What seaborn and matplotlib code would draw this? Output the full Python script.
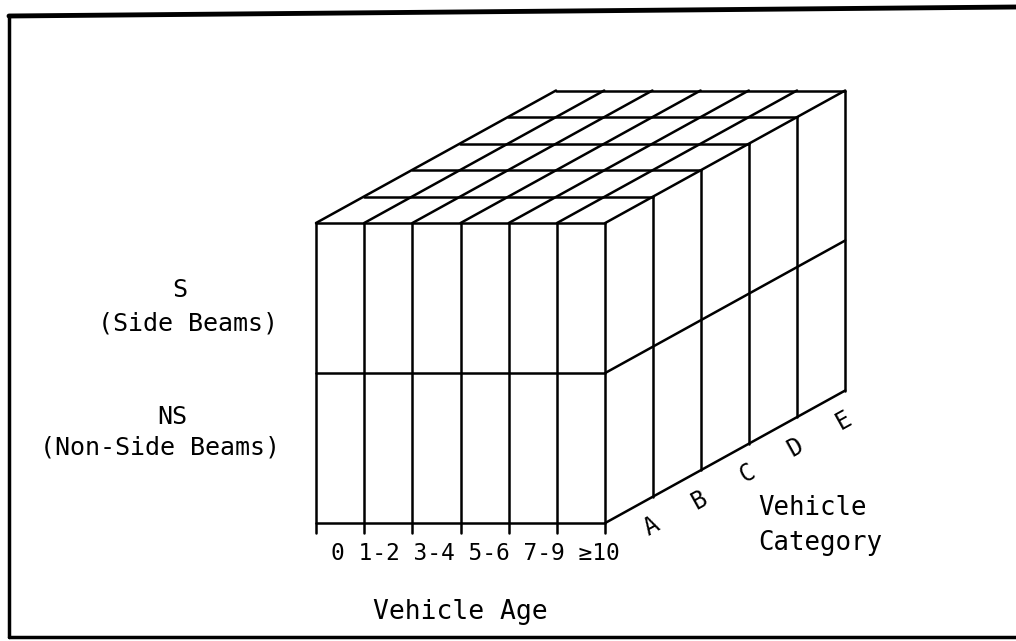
import numpy as np
import pandas as pd
import seaborn as sns
import matplotlib.pyplot as plt

# the three classification dimensions of the cube
age_groups = ["0", "1-2", "3-4", "5-6", "7-9", "≥10"]
vehicle_categories = ["A", "B", "C", "D", "E"]
beam_codes = ["NS", "S"]                       # bottom row first
beam_names = ["(Non-Side Beams)", "(Side Beams)"]

n_age, n_cat, n_beam = len(age_groups), len(vehicle_categories), len(beam_codes)

# oblique projection of the cube (pixel units, y pointing down)
X0, Y0 = 316, 523          # front bottom-left corner
CW, RH = 48.2, 150         # column width, row height on the front face
DX, DY = 48, -26.5         # shift per category slice (depth)
TICK = 10


def proj(i, j, k):
    # i: age column, j: beam row, k: category slice
    return X0 + i * CW + k * DX, Y0 - j * RH + k * DY


segs = []
# front face
for i in range(n_age + 1):
    x, y = proj(i, 0, 0)
    segs.append(((x, y + TICK), proj(i, n_beam, 0)))
for j in range(n_beam + 1):
    segs.append((proj(0, j, 0), proj(n_age, j, 0)))
# top face
for i in range(n_age + 1):
    segs.append((proj(i, n_beam, 0), proj(i, n_beam, n_cat)))
for k in range(1, n_cat + 1):
    segs.append((proj(0, n_beam, k), proj(n_age, n_beam, k)))
# right face
for k in range(1, n_cat + 1):
    segs.append((proj(n_age, 0, k), proj(n_age, n_beam, k)))
for j in range(n_beam):
    segs.append((proj(n_age, j, 0), proj(n_age, j, n_cat)))

rows = []
for s, (p, q) in enumerate(segs):
    rows.append({"seg": s, "x": p[0], "y": p[1]})
    rows.append({"seg": s, "x": q[0], "y": q[1]})
lines = pd.DataFrame(rows)

sns.set_theme(style="white")
plt.rcParams["font.family"] = ["DejaVu Sans Mono", "DejaVu Sans"]
plt.rcParams["text.color"] = "black"

fig = plt.figure(figsize=(10.16, 6.41), dpi=100)
ax = fig.add_axes([0, 0, 1, 1])
sns.lineplot(data=lines, x="x", y="y", units="seg", estimator=None, sort=False,
             color="black", lw=1.8, ax=ax)

# page frame of the scanned figure
ax.plot([9, 9], [16, 637], color="black", lw=2.5, clip_on=False)
ax.plot([9, 1016], [16, 7], color="black", lw=3.5, clip_on=False)
ax.plot([9, 1016], [637, 637], color="black", lw=2.5, clip_on=False)

# beam type labels
ax.text(180, 290, beam_codes[1], ha="center", va="center", fontsize=18)
ax.text(188, 323, beam_names[1], ha="center", va="center", fontsize=18)
ax.text(172, 417, beam_codes[0], ha="center", va="center", fontsize=18)
ax.text(160, 447, beam_names[0], ha="center", va="center", fontsize=18)

# age labels typed as one line
ax.text(X0 + 15, 553, " ".join(age_groups), ha="left", va="center", fontsize=16.5)
ax.text(460, 612, "Vehicle Age", ha="center", va="center", fontsize=19)

# category labels along the slanted bottom edge
for k, c in enumerate(vehicle_categories):
    x, y = proj(n_age, 0, k + 0.5)
    ax.text(x + 22, y + 17, c, ha="center", va="center", fontsize=17, rotation=29)
ax.text(758, 508, "Vehicle", ha="left", va="center", fontsize=18.5)
ax.text(758, 543, "Category", ha="left", va="center", fontsize=18.5)

ax.set_xlim(0, 1016)
ax.set_ylim(641, 0)
ax.axis("off")
fig.savefig("out.png", dpi=100)
